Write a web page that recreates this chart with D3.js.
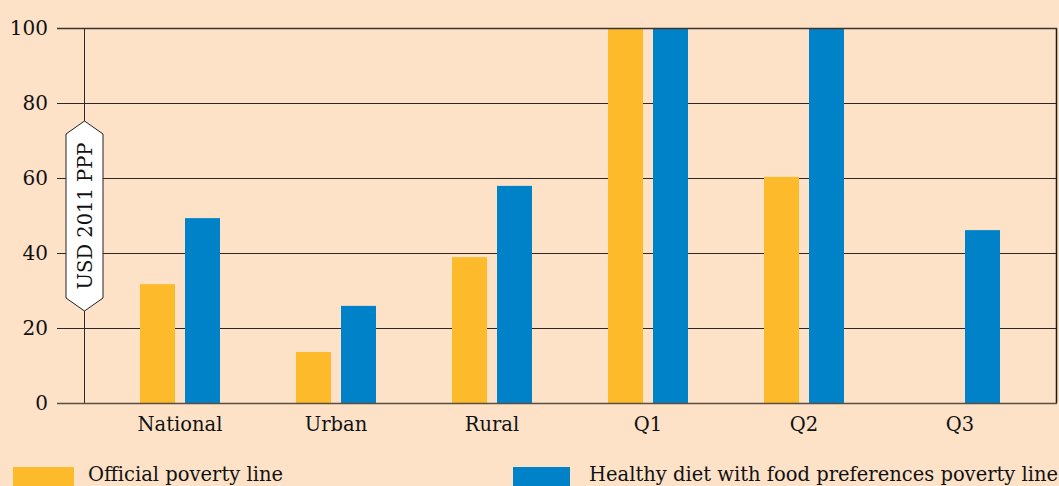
<!DOCTYPE html>
<html>
<head>
<meta charset="utf-8">
<script src="https://cdn.jsdelivr.net/npm/d3@7"></script>
<style>
  html, body { margin: 0; padding: 0; background: #FDE2C8; }
  svg { display: block; }
  text { font-family: "DejaVu Serif", serif; fill: #111; }
</style>
</head>
<body>
<svg id="chart" width="1059" height="486"></svg>
<script>
// Categories and values (USD 2011 PPP)
const categories = ["National", "Urban", "Rural", "Q1", "Q2", "Q3"];
const officialLine = [31.7, 13.6, 38.9, 100, 60.3, null];
const healthyDietLine = [49.3, 25.9, 57.9, 100, 100, 46.1];
const yTicks = [0, 20, 40, 60, 80, 100];
const seriesNames = ["Official poverty line", "Healthy diet with food preferences poverty line"];
const seriesColors = ["#FDBB2C", "#0082C9"];

const svg = d3.select("#chart");
const W = 1059, H = 486;
svg.append("rect").attr("width", W).attr("height", H).attr("fill", "#FDE2C8");

const plotLeft = 57, plotRight = 1056, plotTop = 28, plotBottom = 403;
const axisX = 84;

const y = d3.scaleLinear().domain([0, 100]).range([plotBottom, plotTop]);
const x = d3.scaleBand().domain(categories).range([102, 1038]);
const barW = 35, barGap = 10;
// offset of each series' bar inside its category band
const inner = d3.scaleOrdinal().domain([0, 1])
  .range([x.bandwidth() / 2 - barW - barGap / 2, x.bandwidth() / 2 + barGap / 2]);

// Gridlines (behind bars)
const grid = svg.append("g")
  .attr("transform", `translate(${plotLeft},0)`)
  .call(d3.axisRight(y).tickValues(yTicks).tickSize(plotRight - plotLeft).tickFormat(""));
grid.select(".domain").remove();
grid.selectAll("line").attr("stroke", "#2a2a2a").attr("stroke-width", 1).attr("shape-rendering", "crispEdges");

// Vertical axis line and right frame
svg.append("line").attr("x1", axisX + 0.5).attr("x2", axisX + 0.5)
  .attr("y1", y(100)).attr("y2", y(0)).attr("stroke", "#2a2a2a");
svg.append("line").attr("x1", plotRight + 0.5).attr("x2", plotRight + 0.5)
  .attr("y1", y(100)).attr("y2", y(0)).attr("stroke", "#1a1a1a").attr("stroke-width", 1.5);

// Bars
const series = [officialLine, healthyDietLine];
series.forEach((vals, si) => {
  svg.append("g").selectAll("rect")
    .data(categories.map((c, i) => ({ c, v: vals[i] })).filter(d => d.v != null))
    .join("rect")
    .attr("x", d => Math.round(x(d.c) + inner(si)))
    .attr("width", barW)
    .attr("y", d => y(d.v))
    .attr("height", d => y(0) - y(d.v))
    .attr("fill", seriesColors[si]);
});

// Top gridline and baseline drawn over bars
svg.append("line").attr("x1", plotLeft).attr("x2", plotRight + 1)
  .attr("y1", y(100) + 0.5).attr("y2", y(100) + 0.5).attr("stroke", "#3a3530").attr("stroke-width", 1.5);
svg.append("line").attr("x1", plotLeft).attr("x2", plotRight + 1)
  .attr("y1", y(0) + 0.5).attr("y2", y(0) + 0.5).attr("stroke", "#5a4d42").attr("stroke-width", 1.5);

// Y tick labels
const yAxis = svg.append("g")
  .attr("transform", `translate(${plotLeft},0)`)
  .call(d3.axisLeft(y).tickValues(yTicks).tickSize(0).tickPadding(9));
yAxis.select(".domain").remove();
yAxis.selectAll("text").attr("font-size", 20).attr("font-family", "DejaVu Serif").attr("fill", "#111");

// X category labels
const xAxis = svg.append("g")
  .attr("transform", `translate(0,${plotBottom})`)
  .call(d3.axisBottom(x).tickSize(0).tickPadding(14));
xAxis.select(".domain").remove();
xAxis.selectAll("text").attr("font-size", 19.5).attr("font-family", "DejaVu Serif").attr("fill", "#111");

// Y axis title badge
const bTop = 121, bBot = 311, bL = 66, bR = 103, tip = 13;
const cx = (bL + bR) / 2;
svg.append("path")
  .attr("d", `M${cx},${bTop} L${bR},${bTop + tip} L${bR},${bBot - tip} L${cx},${bBot} L${bL},${bBot - tip} L${bL},${bTop + tip} Z`)
  .attr("fill", "#fff").attr("stroke", "#222").attr("stroke-width", 1);
svg.append("text")
  .attr("transform", `translate(${cx + 7},${(bTop + bBot) / 2}) rotate(-90)`)
  .attr("text-anchor", "middle")
  .attr("font-size", 19.5)
  .text("USD 2011 PPP");

// Legend
const legend = [
  { x: 13, w: 61, tx: 88 },
  { x: 513, w: 57, tx: 589 }
];
legend.forEach((l, i) => {
  svg.append("rect").attr("x", l.x).attr("y", 467).attr("width", l.w).attr("height", 22).attr("fill", seriesColors[i]);
  svg.append("text").attr("x", l.tx).attr("y", 481).attr("font-size", 19.5).text(seriesNames[i]);
});
</script>
</body>
</html>
